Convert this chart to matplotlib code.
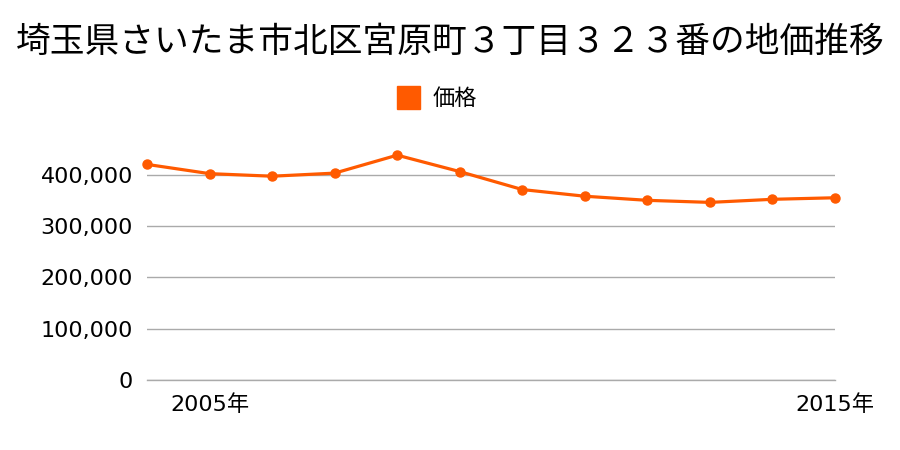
import matplotlib
matplotlib.use("Agg")
import matplotlib.pyplot as plt

plt.rcParams['font.family'] = ['Noto Sans CJK JP', 'DejaVu Sans']

years = [2004, 2005, 2006, 2007, 2008, 2009, 2010, 2011, 2012, 2013, 2014, 2015]
prices = [420000, 402000, 397000, 403000, 438000, 406000, 371000, 358000, 350000, 346000, 352000, 355000]
yticks = [0, 100000, 200000, 300000, 400000]
xtick_years = [2005, 2015]
xtick_labels = ["2005年", "2015年"]
title = "埼玉県さいたま市北区宮原町３丁目３２３番の地価推移"
series_name = "価格"
color = "#FF5A00"
tick_family = ['DejaVu Sans', 'Noto Sans CJK JP']

fig = plt.figure(figsize=(9, 4.5), dpi=100)
ax = fig.add_axes([147/900, (450-380)/450, (835-147)/900, (380-149)/450])
ax.plot(years, prices, color=color, lw=2.3, marker='o', ms=6.5, clip_on=False, zorder=3)
ax.set_xlim(2004, 2015)
ax.set_ylim(0, 450000)
ax.set_yticks(yticks)
ax.set_yticklabels([f"{v:,}" for v in yticks], fontsize=16, family=tick_family)
ax.set_xticks(xtick_years)
ax.set_xticklabels(xtick_labels, fontsize=16, family=tick_family)
ax.grid(axis='y', color='#aaaaaa', lw=1)
ax.axhline(0, color='#aaaaaa', lw=1, clip_on=False, zorder=1)
ax.set_axisbelow(True)
for s in ax.spines.values():
    s.set_visible(False)
ax.tick_params(length=0)
ax.tick_params(axis='y', pad=10)
ax.tick_params(axis='x', pad=10)

fig.text(0.5, 1-42/450, title, ha='center', va='center', fontsize=25)
fig.patches.append(plt.Rectangle((397/900, 1-109/450), 23/900, 23/450, transform=fig.transFigure, color=color))
fig.text(433/900, 1-98/450, series_name, ha='left', va='center', fontsize=16)

fig.savefig("out.png", dpi=100)
